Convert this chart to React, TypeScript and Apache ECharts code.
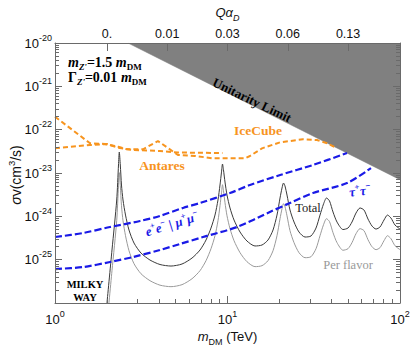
import React, { useEffect, useRef } from "react";
import * as echarts from "echarts";

// ---------------- data ----------------
const unitarityMass = [2.65, 100];
const unitaritySigma = [1e-20, 7.0e-24];

const iceCubeMass = [1, 1.596, 1.95, 2.32, 2.61, 3.24, 3.95, 5.16, 6.48, 8.24, 12.6, 13.5, 15.85, 20.2, 27.4, 33.0, 37.8, 42.0];
const iceCubeSigma = [1.99e-22, 4.84e-23, 4.67e-23, 4.04e-23, 3.52e-23, 3.52e-23, 5.47e-23, 2.6e-23, 2.47e-23, 2.18e-23, 2.18e-23, 2.47e-23, 3.71e-23, 5.11e-23, 6.0e-23, 5.77e-23, 4.84e-23, 3.92e-23];

const antaresMass = [1, 1.596, 2.0, 2.32, 2.83, 4.06, 5.16, 9.35];
const antaresSigma = [3.71e-23, 4.43e-23, 4.67e-23, 3.84e-23, 3.4e-23, 3.22e-23, 2.97e-23, 2.89e-23];

const eeMuMuMass = [1, 1.453, 2.084, 3.11, 4.06, 5.52, 6.93, 10.34, 13.5, 20.2, 31.3, 49.3];
const eeMuMuSigma = [3.33e-25, 4.12e-25, 5.67e-25, 7.8e-25, 1.02e-24, 1.56e-24, 2.03e-24, 3.45e-24, 5.28e-24, 9.0e-24, 1.53e-23, 2.89e-23];

const tauTauMass = [1, 1.453, 2.084, 2.83, 4.06, 5.3, 7.21, 11.35, 17.6, 23.0, 31.3, 49.3, 67.9];
const tauTauSigma = [6.08e-26, 6.76e-26, 8.83e-26, 1.15e-25, 1.67e-25, 2.3e-25, 3.33e-25, 5.67e-25, 1.26e-24, 2.03e-24, 3.45e-24, 5.87e-24, 1.3e-23];

const curveMass = [
  2.001, 2.14, 2.279, 2.334, 2.359, 2.391, 2.429, 2.479, 2.563, 2.685, 2.871, 3.152, 3.554, 4.061, 4.703,
  5.448, 6.228, 6.928, 7.506, 8.023, 8.463, 8.808, 9.047, 9.23, 9.354, 9.48, 9.672, 9.934, 10.34, 10.91,
  11.82, 12.97, 14.43, 15.85, 17.17, 18.36, 19.36, 20.16, 20.7, 21.12, 21.54, 22.13, 23.03, 24.3, 25.97,
  28.14, 30.49, 32.59, 34.38, 36.02, 37.49, 39.03, 40.89, 43.13, 46.72, 49.94, 52.69, 55.58, 58.63, 61.84,
  65.23, 68.81, 72.58, 76.56, 80.76, 84.6, 88.64, 93.54, 100,
];
const totalSigma = [
  1.0e-26, 1.67e-25, 2.38e-24, 1.53e-23, 3.05e-23, 1.53e-23, 5.28e-24, 2.38e-24, 1.07e-24, 4.83e-25, 2.42e-25, 1.42e-25, 9.8e-26, 7.73e-26, 7.13e-26,
  7.94e-26, 1.09e-25, 1.67e-25, 2.84e-25, 5.37e-25, 1.07e-24, 2.38e-24, 5.28e-24, 1.05e-23, 1.61e-23, 1.17e-23, 6.19e-24, 3.1e-24, 1.56e-24, 8.22e-25,
  4.35e-25, 2.69e-25, 2.07e-25, 2.18e-25, 2.84e-25, 4.83e-25, 1.07e-24, 2.65e-24, 4.5e-24, 5.87e-24, 5.01e-24, 3.1e-24, 1.4e-24, 7.4e-25, 4.35e-25,
  3.33e-25, 3.52e-25, 5.37e-25, 1.07e-24, 1.92e-24, 2.65e-24, 2.26e-24, 1.26e-24, 7.4e-25, 4.96e-25, 5.37e-25, 7.4e-25, 1.19e-24, 1.56e-24, 1.4e-24,
  8.67e-25, 5.98e-25, 5.09e-25, 5.67e-25, 8.22e-25, 1.07e-24, 9.14e-25, 6.31e-25, 5.09e-25,
];
const perFlavorSigma = [
  3.33e-27, 5.57e-26, 7.93e-25, 5.1e-24, 1.02e-23, 5.1e-24, 1.76e-24, 7.93e-25, 3.57e-25, 1.61e-25, 8.07e-26, 4.73e-26, 3.27e-26, 2.58e-26, 2.38e-26,
  2.65e-26, 3.63e-26, 5.57e-26, 9.47e-26, 1.79e-25, 3.57e-25, 7.93e-25, 1.76e-24, 3.5e-24, 5.37e-24, 3.9e-24, 2.06e-24, 1.03e-24, 5.2e-25, 2.74e-25,
  1.45e-25, 8.97e-26, 6.9e-26, 7.27e-26, 9.47e-26, 1.61e-25, 3.57e-25, 8.83e-25, 1.5e-24, 1.96e-24, 1.67e-24, 1.03e-24, 4.67e-25, 2.47e-25, 1.45e-25,
  1.11e-25, 1.17e-25, 1.79e-25, 3.57e-25, 6.4e-25, 8.83e-25, 7.53e-25, 4.2e-25, 2.47e-25, 1.65e-25, 1.79e-25, 2.47e-25, 3.97e-25, 5.2e-25, 4.67e-25,
  2.89e-25, 1.99e-25, 1.7e-25, 1.89e-25, 2.74e-25, 3.57e-25, 3.05e-25, 2.1e-25, 1.7e-25,
];

// top axis (Q alpha_D) tick positions in m_DM and their labels
const topTickMass = [2, 4.472, 10, 22.36, 50];
const topTickLabels = ["0.", "0.01", "0.03", "0.06", "0.13"];

const minorMultipliers = [2, 3, 4, 5, 6, 7, 8, 9];
const xDecades = [0, 1];
const yDecades = [-26, -25, -24, -23, -22, -21];

// ---------------- styling ----------------
const SERIF = '"Liberation Serif", "Times New Roman", serif';
const SANS = '"Liberation Sans", Arial, Helvetica, sans-serif';
const AX = "#6a6a6a";
const ORANGE = "#f7941e";
const BLUE = "#1a1ae6";

const zip = (a: number[], b: number[]) => a.map((v, i) => [v, b[i]]);

const powRich = {
  b: { fontSize: 13, fontFamily: SANS, color: "#111", lineHeight: 20 },
  sup: { fontSize: 9, fontFamily: SANS, color: "#111", lineHeight: 10, verticalAlign: "top" as const },
};
const powLabel = (v: number) => `{b|10}{sup|${Math.round(Math.log10(v))}}`;

export default function App() {
  const ref = useRef<HTMLDivElement>(null);

  useEffect(() => {
    if (!ref.current) return;
    const chart = echarts.init(ref.current, null, { renderer: "svg", width: 411, height: 347 });

    const xMinor = xDecades.flatMap((d) => minorMultipliers.map((k) => d + Math.log10(k)));
    const yMinor = yDecades.flatMap((d) => minorMultipliers.map((k) => d + Math.log10(k)));
    const topPos = topTickMass.map((m) => Math.log10(m));
    const yMajor = [-26, -25, -24, -23, -22, -21, -20];

    const tickStyle = { color: AX, width: 1 };
    const lineStyleAx = { color: AX, width: 1 };

    const txt = (x: number, y: number, style: any, rotation = 0) => ({
      type: "text",
      x,
      y,
      rotation,
      z: 100,
      silent: true,
      style: {
        align: "center",
        verticalAlign: "middle",
        textAlign: "center",
        textVerticalAlign: "middle",
        ...style,
      },
    });

    const boldSerif = (size: number, italic = false) => ({
      fontFamily: SERIF,
      fontWeight: "bold",
      fontStyle: italic ? "italic" : "normal",
      fontSize: size,
      lineHeight: 18,
    });

    const option: any = {
      animation: false,
      backgroundColor: "#ffffff",
      grid: { left: 55, right: 11, top: 43, bottom: 44, containLabel: false, outerBoundsMode: "none" },
      xAxis: [
        {
          type: "log",
          logBase: 10,
          min: 1,
          max: 100,
          splitNumber: 2,
          position: "bottom",
          z: 10,
          axisLine: { show: true, lineStyle: lineStyleAx },
          axisTick: { show: true, inside: true, length: 7, lineStyle: tickStyle },
          minorTick: { show: false },
          splitLine: { show: false },
          axisLabel: { formatter: powLabel, rich: powRich, margin: 6 },
          name: "{mi|m}{sub|DM}{n| (TeV)}",
          nameLocation: "middle",
          nameGap: 23,
          nameTextStyle: {
            rich: {
              mi: { fontFamily: SANS, fontStyle: "italic", fontSize: 13, color: "#111", lineHeight: 20 },
              sub: { fontFamily: SANS, fontSize: 9, color: "#111", lineHeight: 10, verticalAlign: "bottom" },
              n: { fontFamily: SANS, fontSize: 13, color: "#111", lineHeight: 20 },
            },
          },
        },
        {
          type: "value",
          min: 0,
          max: 2,
          position: "bottom",
          z: 10,
          axisLine: { show: false },
          axisTick: { show: true, inside: true, length: 4, customValues: xMinor, lineStyle: tickStyle },
          axisLabel: { show: false },
          splitLine: { show: false },
        },
        {
          type: "value",
          min: 0,
          max: 2,
          position: "top",
          z: 10,
          axisLine: { show: true, lineStyle: lineStyleAx },
          axisTick: { show: true, inside: true, length: 8, customValues: topPos, lineStyle: tickStyle },
          axisLabel: {
            customValues: topPos,
            margin: 3,
            fontFamily: SANS,
            fontSize: 12.5,
            color: "#111",
            formatter: (v: number) => {
              let best = 0;
              topPos.forEach((p, i) => {
                if (Math.abs(p - v) < Math.abs(topPos[best] - v)) best = i;
              });
              return topTickLabels[best];
            },
          },
          splitLine: { show: false },
          name: "{i|Qα}{sub|D}",
          nameLocation: "middle",
          nameGap: 21,
          nameTextStyle: {
            rich: {
              i: { fontFamily: SANS, fontStyle: "italic", fontSize: 13, color: "#111", lineHeight: 20 },
              sub: { fontFamily: SANS, fontStyle: "italic", fontSize: 9, color: "#111", lineHeight: 10, verticalAlign: "bottom" },
            },
          },
        },
      ],
      yAxis: [
        {
          type: "log",
          logBase: 10,
          min: 1e-26,
          max: 1e-20,
          splitNumber: 6,
          position: "left",
          z: 10,
          axisLine: { show: true, lineStyle: lineStyleAx },
          axisTick: { show: true, inside: true, length: 7, lineStyle: tickStyle },
          minorTick: { show: false },
          splitLine: { show: false },
          axisLabel: { formatter: powLabel, rich: powRich, margin: 3 },
        },
        {
          type: "value",
          min: -26,
          max: -20,
          position: "left",
          z: 10,
          axisLine: { show: false },
          axisTick: { show: true, inside: true, length: 4, customValues: yMinor, lineStyle: tickStyle },
          axisLabel: { show: false },
          splitLine: { show: false },
        },
        {
          type: "value",
          min: -26,
          max: -20,
          position: "right",
          z: 10,
          axisLine: { show: true, lineStyle: lineStyleAx },
          axisTick: { show: true, inside: true, length: 7, customValues: yMajor, lineStyle: tickStyle },
          axisLabel: { show: false },
          splitLine: { show: false },
        },
        {
          type: "value",
          min: -26,
          max: -20,
          position: "right",
          z: 10,
          axisLine: { show: false },
          axisTick: { show: true, inside: true, length: 4, customValues: yMinor, lineStyle: tickStyle },
          axisLabel: { show: false },
          splitLine: { show: false },
        },
      ],
      series: [
        {
          name: "Unitarity Limit",
          type: "line",
          xAxisIndex: 0,
          yAxisIndex: 0,
          data: zip(unitarityMass, unitaritySigma),
          symbol: "none",
          lineStyle: { width: 0.5, color: "#7a7a7a" },
          areaStyle: { color: "#808080", opacity: 1, origin: "end" },
          z: 1,
          silent: true,
        },
        {
          name: "IceCube",
          type: "line",
          xAxisIndex: 0,
          yAxisIndex: 0,
          data: zip(iceCubeMass, iceCubeSigma),
          symbol: "none",
          lineStyle: { width: 2, color: ORANGE, type: [5, 3] },
          z: 3,
        },
        {
          name: "Antares",
          type: "line",
          xAxisIndex: 0,
          yAxisIndex: 0,
          data: zip(antaresMass, antaresSigma),
          symbol: "none",
          lineStyle: { width: 2, color: ORANGE, type: [5, 3] },
          z: 3,
        },
        {
          name: "e+e- | mu+mu-",
          type: "line",
          xAxisIndex: 0,
          yAxisIndex: 0,
          data: zip(eeMuMuMass, eeMuMuSigma),
          symbol: "none",
          smooth: 0.3,
          lineStyle: { width: 2.2, color: BLUE, type: [7, 3] },
          z: 3,
        },
        {
          name: "tau+tau-",
          type: "line",
          xAxisIndex: 0,
          yAxisIndex: 0,
          data: zip(tauTauMass, tauTauSigma),
          symbol: "none",
          smooth: 0.3,
          lineStyle: { width: 2.2, color: BLUE, type: [7, 3] },
          z: 3,
        },
        {
          name: "Per flavor",
          type: "line",
          xAxisIndex: 0,
          yAxisIndex: 0,
          data: zip(curveMass, perFlavorSigma),
          symbol: "none",
          smooth: 0.25,
          lineStyle: { width: 1, color: "#9a9a9a" },
          z: 2,
        },
        {
          name: "Total",
          type: "line",
          xAxisIndex: 0,
          yAxisIndex: 0,
          data: zip(curveMass, totalSigma),
          symbol: "none",
          smooth: 0.25,
          lineStyle: { width: 1, color: "#3a3a3a" },
          z: 2,
        },
      ],
      graphic: {
        elements: [
          txt(
            16,
            175,
            {
              text: "{i|σ}{n|v(cm}{sup|3}{n|/s)}",
              fill: "#111",
              rich: {
                i: { fontFamily: SANS, fontStyle: "italic", fontSize: 14, color: "#111", lineHeight: 20 },
                n: { fontFamily: SANS, fontSize: 14, color: "#111", lineHeight: 20 },
                sup: { fontFamily: SANS, fontSize: 9.5, color: "#111", lineHeight: 10, verticalAlign: "top" },
              },
            },
            Math.PI / 2
          ),
          txt(68, 62, {
            text: "{mi|m}{subi|Z'}{b|=1.5 }{mi|m}{sub|DM}",
            align: "left",
            textAlign: "left",
            fill: "#000",
            rich: {
              mi: { ...boldSerif(14, true) },
              b: { ...boldSerif(14) },
              subi: { ...boldSerif(9, true), lineHeight: 10, verticalAlign: "bottom" },
              sub: { ...boldSerif(9), lineHeight: 10, verticalAlign: "bottom" },
            },
          }),
          txt(68, 77, {
            text: "{b|Γ}{subi|Z'}{b|=0.01 }{mi|m}{sub|DM}",
            align: "left",
            textAlign: "left",
            fill: "#000",
            rich: {
              mi: { ...boldSerif(14, true) },
              b: { ...boldSerif(14) },
              subi: { ...boldSerif(9, true), lineHeight: 10, verticalAlign: "bottom" },
              sub: { ...boldSerif(9), lineHeight: 10, verticalAlign: "bottom" },
            },
          }),
          txt(252, 100, { text: "Unitarity Limit", fill: "#000", font: `bold 13px ${SERIF}` }, -0.45),
          txt(258, 130, { text: "IceCube", fill: ORANGE, font: `bold 13.5px ${SERIF}` }),
          txt(162, 165, { text: "Antares", fill: ORANGE, font: `bold 13.5px ${SERIF}` }),
          txt(
            172,
            224,
            {
              text: "{t|e}{s|+}{t|e}{s|−}{t| | μ}{s|+}{t|μ}{s|−}",
              fill: BLUE,
              rich: {
                t: { ...boldSerif(13, true), color: BLUE },
                s: { ...boldSerif(8.5, true), color: BLUE, lineHeight: 10, verticalAlign: "top" },
              },
            },
            0.3
          ),
          txt(
            360,
            191,
            {
              text: "{t|τ}{s|+}{t|τ}{s|−}",
              fill: BLUE,
              rich: {
                t: { ...boldSerif(13, true), color: BLUE },
                s: { ...boldSerif(8.5, true), color: BLUE, lineHeight: 10, verticalAlign: "top" },
              },
            },
            0.12
          ),
          txt(308, 208, { text: "Total", fill: "#222", font: `12.5px ${SERIF}` }),
          txt(348, 265, { text: "Per flavor", fill: "#999", font: `12.5px ${SERIF}` }),
          txt(85, 284, { text: "MILKY", fill: "#000", font: `bold 10.5px ${SERIF}` }),
          txt(85, 297, { text: "WAY", fill: "#000", font: `bold 10.5px ${SERIF}` }),
        ],
      },
    };

    chart.setOption(option);
    return () => chart.dispose();
  }, []);

  return <div ref={ref} style={{ width: 411, height: 347, position: "absolute", left: 0, top: 0 }} />;
}
